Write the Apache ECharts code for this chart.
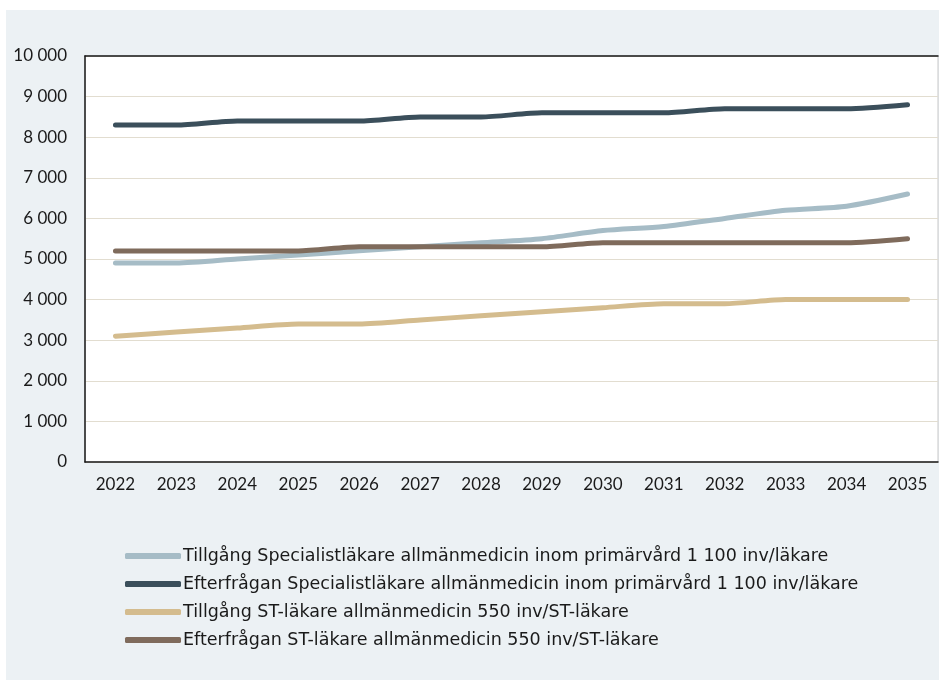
<!DOCTYPE html>
<html>
<head>
<meta charset="utf-8">
<script src="https://cdn.jsdelivr.net/npm/echarts@6/dist/echarts.min.js"></script>
<style>
  html, body { margin: 0; padding: 0; background: #ffffff; }
  #chart { width: 939px; height: 681px; }
</style>
</head>
<body>
<div id="chart"></div>
<script>
// Years on the category axis
const years = ['2022','2023','2024','2025','2026','2027','2028','2029','2030','2031','2032','2033','2034','2035'];

// Supply and demand of GPs (primary care, 1 100 inhabitants per doctor)
const tillgangSpec = [4900, 4900, 5000, 5100, 5200, 5300, 5400, 5500, 5700, 5800, 6000, 6200, 6300, 6600];
const efterfraganSpec = [8300, 8300, 8400, 8400, 8400, 8500, 8500, 8600, 8600, 8600, 8700, 8700, 8700, 8800];

// Supply and demand of ST doctors (550 inhabitants per ST doctor)
const tillgangST = [3100, 3200, 3300, 3400, 3400, 3500, 3600, 3700, 3800, 3900, 3900, 4000, 4000, 4000];
const efterfraganST = [5200, 5200, 5200, 5200, 5300, 5300, 5300, 5300, 5400, 5400, 5400, 5400, 5400, 5500];

const seriesNames = [
  'Tillgång Specialistläkare allmänmedicin inom primärvård 1 100 inv/läkare',
  'Efterfrågan Specialistläkare allmänmedicin inom primärvård 1 100 inv/läkare',
  'Tillgång ST-läkare allmänmedicin 550 inv/ST-läkare',
  'Efterfrågan ST-läkare allmänmedicin 550 inv/ST-läkare'
];
const seriesColors = ['#a6bcc6', '#3b4f5b', '#d4bc8e', '#7f6b5c'];
const seriesData = [tillgangSpec, efterfraganSpec, tillgangST, efterfraganST];

const FONT = '"DejaVu Sans", sans-serif';
const AXIS_FONT = 'Lato, sans-serif';

// Thousands separated by a space, Swedish style
function fmt(v) {
  return String(v).replace(/\B(?=(\d{3})+(?!\d))/g, ' ');
}

const chart = echarts.init(document.getElementById('chart'), null, { renderer: 'canvas' });

chart.setOption({
  animation: false,
  textStyle: { fontFamily: FONT },
  graphic: [{
    type: 'rect',
    z: -10,
    shape: { x: 6, y: 10, width: 933, height: 670 },
    style: { fill: '#ecf1f4' }
  }],
  grid: {
    left: 85, top: 56, right: 1, bottom: 219,
    show: true,
    backgroundColor: '#ffffff',
    borderColor: '#c9c9c9',
    borderWidth: 1
  },
  legend: {
    orient: 'vertical',
    left: 125,
    top: 546,
    padding: 0,
    itemGap: 8,
    itemWidth: 56,
    itemHeight: 6,
    icon: 'roundRect',
    itemStyle: { borderWidth: 0 },
    textStyle: { fontFamily: FONT, fontSize: 17.5, lineHeight: 20, color: '#1a1a1a', padding: [0, 0, 0, -3] },
    data: seriesNames
  },
  xAxis: [{
    type: 'category',
    data: years,
    boundaryGap: true,
    axisLine: { lineStyle: { color: '#1a1a1a', width: 1.5 } },
    axisTick: { inside: true, length: 6, lineStyle: { color: '#1a1a1a' } },
    axisLabel: { fontFamily: AXIS_FONT, fontSize: 17, color: '#1a1a1a', margin: 14 }
  }, {
    // frame line along the top edge of the plot
    type: 'category',
    data: years,
    position: 'top',
    axisLine: { lineStyle: { color: '#1a1a1a', width: 1.5 } },
    axisTick: { show: false },
    axisLabel: { show: false },
    splitLine: { show: false }
  }],
  yAxis: {
    type: 'value',
    min: 0,
    max: 10000,
    interval: 1000,
    axisLine: { show: true, lineStyle: { color: '#1a1a1a', width: 1.5 } },
    axisTick: { show: false },
    axisLabel: { fontFamily: AXIS_FONT, fontSize: 17, color: '#1a1a1a', margin: 18, formatter: fmt },
    splitLine: { lineStyle: { color: '#e2ddd0', width: 1.2 } }
  },
  series: seriesNames.map((name, i) => ({
    name: name,
    type: 'line',
    xAxisIndex: 0,
    data: seriesData[i],
    smooth: 0.25,
    symbol: 'none',
    color: seriesColors[i],
    lineStyle: { width: 5, color: seriesColors[i], cap: 'round', join: 'round' }
  }))
});
</script>
</body>
</html>
